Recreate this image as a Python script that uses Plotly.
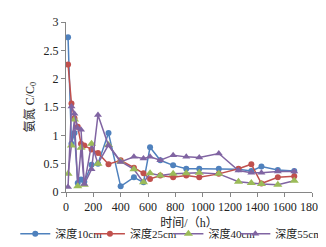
import plotly.graph_objects as go

hours = [15, 40, 62, 86, 110, 134, 187, 234, 311, 400, 497, 567, 615, 690, 784, 880, 975, 1118, 1262, 1356, 1430, 1550, 1670]

depth10 = [2.73, 0.85, 1.04, 0.16, 0.22, 0.18, 0.48, 0.50, 1.04, 0.10, 0.26, 0.17, 0.79, 0.56, 0.47, 0.41, 0.41, 0.41, 0.40, 0.37, 0.45, 0.39, 0.37]
depth25 = [2.25, 1.56, 1.30, 1.15, 0.85, 0.82, 0.75, 0.69, 0.49, 0.56, 0.43, 0.33, 0.23, 0.29, 0.26, 0.29, 0.26, 0.32, 0.41, 0.49, 0.15, 0.26, 0.28]
depth40 = [0.32, 0.82, 1.28, 0.10, 0.78, 0.13, 0.85, 0.50, 0.83, 0.54, 0.40, 0.17, 0.33, 0.29, 0.32, 0.33, 0.34, 0.32, 0.18, 0.16, 0.14, 0.13, 0.20]
depth55 = [0.09, 1.51, 1.38, 1.13, 1.10, 0.14, 0.40, 1.36, 0.82, 0.53, 0.62, 0.59, 0.62, 0.56, 0.65, 0.62, 0.61, 0.68, 0.38, 0.34, 0.34, 0.36, 0.36]

names = ["深度10cm", "深度25cm", "深度40cm", "深度55cm"]
line_colors = ["#4F81BD", "#C0504D", "#8064A2", "#8064A2"]
marker_colors = ["#4F81BD", "#C0504D", "#9BBB59", "#8064A2"]
symbols = ["circle", "circle", "triangle-up", "triangle-up"]
sizes = [6, 6, 8, 7]
legend_ids = ["legend", "legend2", "legend3", "legend4"]
legend_x = [-0.2062, 0.0973, 0.4163, 1.0623]
legend_anchor = ["left", "left", "left", "right"]

fig = go.Figure()
for name, ys, lc, mc, sym, sz, lid in zip(names, [depth10, depth25, depth40, depth55],
                                          line_colors, marker_colors, symbols, sizes, legend_ids):
    fig.add_trace(go.Scatter(
        x=hours, y=ys, name=name, mode="lines+markers", legend=lid,
        line=dict(color=lc, width=1.5),
        marker=dict(color=mc, symbol=sym, size=sz, line=dict(width=0)),
    ))

font_main = "Liberation Serif, Noto Sans CJK SC, serif"

legend_common = dict(orientation="h", y=-0.245, yanchor="middle",
                     font=dict(size=11, family=font_main), itemwidth=30,
                     bgcolor="rgba(0,0,0,0)")
layout_legends = {}
for lid, lx, la in zip(legend_ids, legend_x, legend_anchor):
    layout_legends[lid] = dict(legend_common, x=lx, xanchor=la)

fig.update_layout(
    width=326, height=247,
    margin=dict(l=53, r=16, t=7, b=56),
    paper_bgcolor="white", plot_bgcolor="white",
    font=dict(family=font_main, size=12, color="#222222"),
    showlegend=True,
    xaxis=dict(range=[0, 1800], dtick=200, tick0=0, showgrid=False, zeroline=False,
               showline=True, linecolor="#868686", linewidth=1,
               ticks="outside", ticklen=4, tickcolor="#868686",
               title=dict(text="时间/（h）", standoff=5, font=dict(size=12))),
    yaxis=dict(range=[0, 3], dtick=0.5, tick0=0, showgrid=False, zeroline=False,
               showline=True, linecolor="#868686", linewidth=1,
               ticks="outside", ticklen=4, tickcolor="#868686",
               title=dict(text="氨氮 C/C<sub>0</sub>", standoff=6, font=dict(size=12))),
    **layout_legends,
)

fig.write_html("out.html")
